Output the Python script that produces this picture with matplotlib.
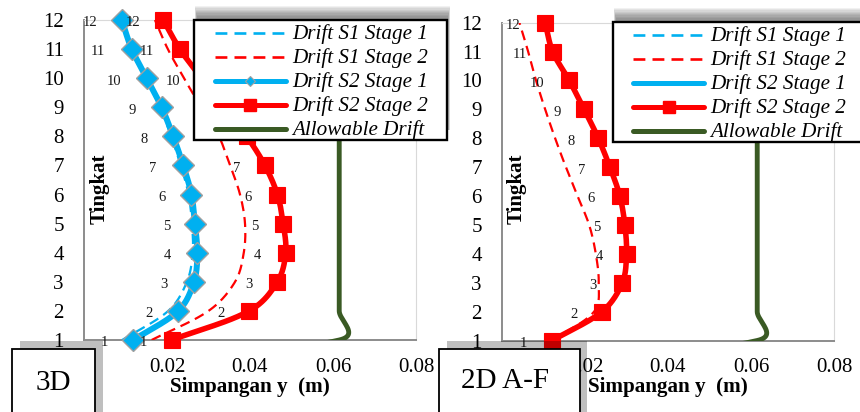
import numpy as np
import matplotlib
matplotlib.use("Agg")
import matplotlib.pyplot as plt
from matplotlib.lines import Line2D
from matplotlib.patches import Rectangle

plt.rcParams["font.family"] = ["Liberation Serif", "DejaVu Serif"]

# ---------------------------------------------------------------- data
levels = list(range(1, 13))
x_ticks = [0.0, 0.02, 0.04, 0.06, 0.08]
x_tick_labels = ["0", "0.02", "0.04", "0.06", "0.08"]

# allowable drift (base point at level 0 anchors the curve at the foot)
allow_levels = list(range(0, 13))
allow_drift = [0.0] + [0.0615] * 12

# 3D model, storey drift y-direction (m), levels 1..12
drift_s1_stage1_3d = [0.0092, 0.0203, 0.0248, 0.0262, 0.0260, 0.0252,
                      0.0233, 0.0210, 0.0183, 0.0148, 0.0113, 0.0089]
drift_s1_stage2_3d = [0.0163, 0.0300, 0.0364, 0.0385, 0.0388, 0.0376,
                      0.0352, 0.0325, 0.0282, 0.0241, 0.0202, 0.0171]
drift_s2_stage1_3d = [0.0119, 0.0227, 0.0265, 0.0273, 0.0267, 0.0259,
                      0.0239, 0.0215, 0.0187, 0.0151, 0.0115, 0.0091]
drift_s2_stage2_3d = [0.0211, 0.0398, 0.0466, 0.0486, 0.0480, 0.0466,
                      0.0436, 0.0392, 0.0338, 0.0283, 0.0231, 0.0191]

# storey-number tags (x position of each tag, m)
tag_a_levels_3d = levels
tag_a_x_3d = [0.0048, 0.0157, 0.0193, 0.0202, 0.0200, 0.0188,
              0.0166, 0.0145, 0.0116, 0.0072, 0.0034, 0.0014]
tag_b_levels_3d = [1, 2, 3, 4, 5, 6, 7, 10, 11, 12]
tag_b_x_3d = [0.0142, 0.0330, 0.0398, 0.0417, 0.0412, 0.0396,
              0.0367, 0.0214, 0.0152, 0.0117]

# 2D A-F model
drift_s1_stage2_2d = [0.0120, 0.0222, 0.0233, 0.0226, 0.0210, 0.0182,
                      0.0154, 0.0128, 0.0104, 0.0082, 0.0063, 0.0042]
drift_s2_stage2_2d = [0.0121, 0.0241, 0.0290, 0.0300, 0.0296, 0.0284,
                      0.0260, 0.0232, 0.0198, 0.0162, 0.0122, 0.0104]
tag_levels_2d = levels
tag_x_2d = [0.0051, 0.0173, 0.0220, 0.0234, 0.0228, 0.0214,
            0.0192, 0.0166, 0.0132, 0.0085, 0.0043, 0.0027]

legend_labels = ["Drift S1 Stage 1", "Drift S1 Stage 2", "Drift S2 Stage 1",
                 "Drift S2 Stage 2", "Allowable Drift"]

# ---------------------------------------------------------------- styles
BLUE = "#00B0F0"
RED = "#FF0000"
GREEN = "#3A5A24"
DASH = (0, (4.5, 2.7))

W, H = 860, 412
fig = plt.figure(figsize=(W / 100, H / 100), dpi=100)
fig.patch.set_facecolor("white")


def fx(px):
    return px / W


def fy(py):
    return 1 - py / H


def smooth(ax, xs, ys, n=24):
    """Bezier smoothing through the points, computed in screen space."""
    pts = ax.transData.transform(np.column_stack([xs, ys]))
    P = np.vstack([pts[:1], pts, pts[-1:]])
    t = np.linspace(0, 1, n)[:, None]
    out = [pts[:1]]
    for i in range(1, len(P) - 2):
        p0, p1, p2, p3 = P[i - 1], P[i], P[i + 1], P[i + 2]
        d01 = np.hypot(*(p1 - p0)) ** 0.5
        d12 = np.hypot(*(p2 - p1)) ** 0.5
        d23 = np.hypot(*(p3 - p2)) ** 0.5
        c1 = p1 + (p2 - p0) * (d12 / (d01 + d12)) / 3 if d01 + d12 > 0 else p1
        c2 = p2 - (p3 - p1) * (d12 / (d12 + d23)) / 3 if d12 + d23 > 0 else p2
        seg = ((1 - t) ** 3) * p1 + 3 * ((1 - t) ** 2) * t * c1 \
            + 3 * (1 - t) * t ** 2 * c2 + t ** 3 * p2
        out.append(seg[1:])
    xy = ax.transData.inverted().transform(np.vstack(out))
    return xy[:, 0], xy[:, 1]


def setup_axes(ax):
    ax.set_xlim(0, 0.08)
    ax.set_ylim(1, 12)
    ax.set_xticks(x_ticks)
    ax.set_xticklabels(x_tick_labels)
    ax.set_yticks(levels)
    ax.tick_params(length=0, labelsize=15, colors="black")
    ax.tick_params(axis="y", pad=14.5)
    ax.tick_params(axis="x", pad=12.8)
    for s in ("left", "bottom"):
        ax.spines[s].set_color("#8C8C8C")
        ax.spines[s].set_linewidth(1.4)
    for s in ("top", "right"):
        ax.spines[s].set_color("#D9D9D9")
        ax.spines[s].set_linewidth(0.8)


def draw_series(ax, xs, ys, color, lw, ls="-", marker=None, ms=0,
                mec=None, mew=0.8, z=3):
    sx, sy = smooth(ax, xs, ys)
    ax.plot(sx, sy, color=color, lw=lw, ls=ls, solid_capstyle="round",
            zorder=z)
    if marker:
        ax.plot(xs, ys, ls="none", marker=marker, ms=ms, mfc=color,
                mec=mec or color, mew=mew, zorder=z + 0.05, clip_on=False)


def draw_tags(ax, xs, lv):
    for x, y in zip(xs, lv):
        ax.annotate(str(y), (x, y), xytext=(0, -4.6),
                    textcoords="offset points", ha="center", va="baseline",
                    fontsize=10.5, color="#1A1A1A", zorder=6,
                    annotation_clip=False)


# ---------------------------------------------------------------- panels
ax1 = fig.add_axes([fx(84), fy(340), 332 / W, 320 / H])
ax2 = fig.add_axes([fx(502), fy(340.5), 332 / W, 317.8 / H])
for ax in (ax1, ax2):
    setup_axes(ax)

# 3D
draw_series(ax1, drift_s1_stage1_3d, levels, BLUE, 1.6, DASH, z=3.0)
draw_series(ax1, drift_s1_stage2_3d, levels, RED, 1.6, DASH, z=3.1)
draw_series(ax1, drift_s2_stage1_3d, levels, BLUE, 4.3, marker="D", ms=11.5,
            mec="#A0A0A0", mew=1.0, z=3.2)
draw_series(ax1, drift_s2_stage2_3d, levels, RED, 4.0, marker="s", ms=11.8,
            z=3.3)
draw_series(ax1, allow_drift, allow_levels, GREEN, 3.5, z=3.4)
draw_tags(ax1, tag_a_x_3d, tag_a_levels_3d)
draw_tags(ax1, tag_b_x_3d, tag_b_levels_3d)

# 2D A-F
draw_series(ax2, drift_s1_stage2_2d, levels, RED, 1.6, DASH, z=3.1)
draw_series(ax2, drift_s2_stage2_2d, levels, RED, 4.0, marker="s", ms=11.8,
            z=3.3)
draw_series(ax2, allow_drift, allow_levels, GREEN, 3.5, z=3.4)
draw_tags(ax2, tag_x_2d, tag_levels_2d)

# axis titles
for cx in (250, 668):
    fig.text(fx(cx), fy(392), "Simpangan y  (m)", ha="center",
             va="baseline", fontsize=15.2, fontweight="bold")
for cx in (100, 517):
    fig.text(fx(cx), fy(188.5), "Tingkat", rotation=90, ha="center",
             va="center", fontsize=15, fontweight="bold")

# ---------------------------------------------------------------- legends
legend_styles = [
    dict(color=BLUE, lw=1.9, ls=DASH),
    dict(color=RED, lw=1.9, ls=DASH),
    dict(color=BLUE, lw=3.6),
    dict(color=RED, lw=3.6),
    dict(color=GREEN, lw=3.6),
]


def px_rect(x0, y0, x1, y1, **kw):
    r = Rectangle((fx(x0), fy(y1)), (x1 - x0) / W, (y1 - y0) / H,
                  transform=fig.transFigure, **kw)
    fig.add_artist(r)
    return r


def draw_legend(x0, y0, x1, y1, h0, h1, tx, diamond):
    # soft shadow rising above the frame
    for k in range(9):
        px_rect(x0 + 3 - 0.3 * k, y0 - 4 - 1.3 * k, x1 + 1 + 0.3 * k, y1 - 10,
                facecolor="black", edgecolor="none", alpha=0.055, zorder=5)
    px_rect(x0, y0, x1, y1, facecolor="white", edgecolor="black", lw=1.7,
            zorder=6)
    for i, (lab, st) in enumerate(zip(legend_labels, legend_styles)):
        ry = y0 + 12.5 + 24 * i
        ln = Line2D([fx(h0), fx(h1)], [fy(ry), fy(ry)],
                    transform=fig.transFigure, solid_capstyle="round",
                    zorder=7, **st)
        fig.add_artist(ln)
        mk = None
        if i == 2 and diamond:
            mk = dict(marker="D", ms=5.5, mfc=BLUE, mec="#A0A0A0", mew=0.8)
        if i == 3:
            mk = dict(marker="s", ms=8, mfc=RED, mec=RED)
        if mk:
            fig.add_artist(Line2D([fx((h0 + h1) / 2)], [fy(ry)], ls="none",
                                  transform=fig.transFigure, zorder=7.5,
                                  **mk))
        fig.text(fx(tx), fy(ry + 6.9), lab, ha="left", va="baseline",
                 fontsize=15.2, fontstyle="italic", zorder=8)


draw_legend(194, 20, 447, 140, 215, 286, 292, diamond=True)
draw_legend(613, 22, 880, 142, 633, 704, 710, diamond=False)

# ---------------------------------------------------------------- model tags
for (gx0, gx1, wx0, wx1, tcx, tby, name) in (
        (20, 103, 12, 95, 53.5, 390.5, "3D"),
        (447, 587, 439, 580, 505, 388, "2D A-F")):
    px_rect(gx0, 341, gx1, 425, facecolor="black", edgecolor="none",
            alpha=0.25, zorder=8)
    px_rect(wx0, 348.5, wx1, 425, facecolor="white", edgecolor="black",
            lw=1.3, zorder=9)
    fig.text(fx(tcx), fy(tby), name, ha="center", va="baseline",
             fontsize=21, zorder=10)

fig.savefig("out.png", dpi=100)
